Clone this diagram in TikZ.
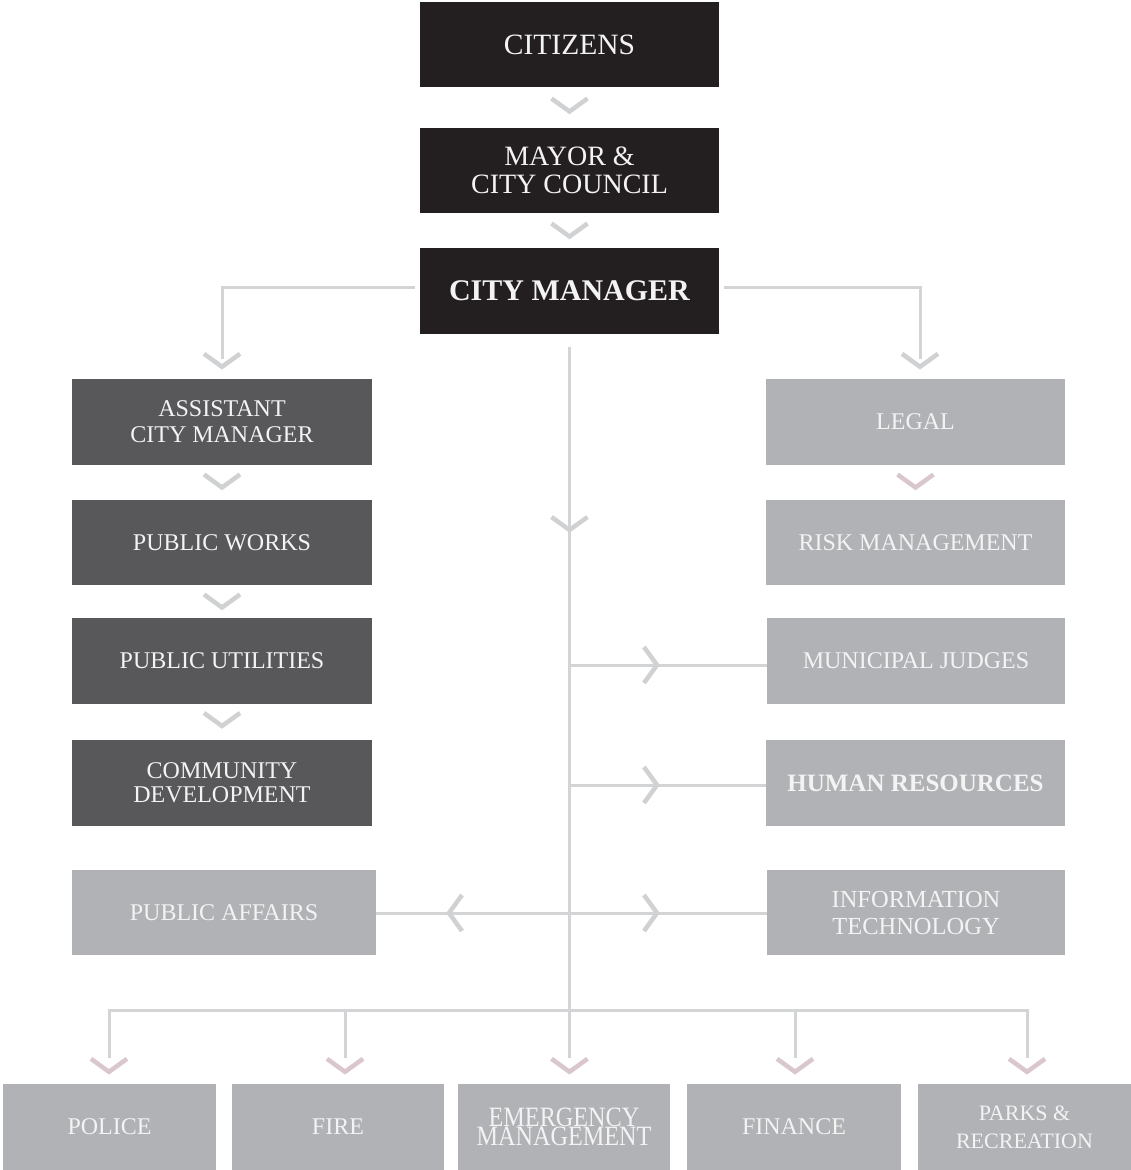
\documentclass[tikz,border=0pt]{standalone}
\usepackage{fontspec}
\setmainfont{Liberation Serif}
\usetikzlibrary{calc}
\definecolor{boxblack}{HTML}{231F20}
\definecolor{boxdark}{HTML}{58585A}
\definecolor{boxlight}{HTML}{B1B2B5}
\definecolor{linegray}{HTML}{D3D4D6}
\definecolor{chevgray}{HTML}{D0D1D3}
\definecolor{chevpink}{HTML}{D9C7CD}
\definecolor{txtwhite}{HTML}{F3F3F3}
\tikzset{
  box/.style={rectangle, inner sep=0pt, align=center, text=txtwhite, draw=none},
  blackbox/.style={box, fill=boxblack, minimum width=299pt, minimum height=85pt},
  darkbox/.style={box, fill=boxdark, minimum width=300pt, minimum height=86pt, font=\fontsize{24}{26}\selectfont},
  lightbox/.style={box, fill=boxlight, minimum width=299pt, minimum height=86pt, font=\fontsize{24}{26}\selectfont},
  botbox/.style={box, fill=boxlight, minimum width=213pt, minimum height=86pt, font=\fontsize{24}{26}\selectfont},
  conn/.style={draw=linegray, line width=3pt},
  chevG/.style={draw=chevgray},
  chevP/.style={draw=chevpink},
  chevD/.pic={\draw[line width=4.5pt, line join=miter, pic actions] (-18,-13) -- (0,0) -- (18,-13);},
  chevR/.pic={\draw[line width=4.5pt, line join=miter, pic actions] (-13,-18) -- (0,0) -- (-13,18);},
  chevL/.pic={\draw[line width=4.5pt, line join=miter, pic actions] (13,-18) -- (0,0) -- (13,18);},
}
\begin{document}
\begin{tikzpicture}[x=1pt,y=-1pt]
\useasboundingbox (0,0) rectangle (1131,1170);
% top column
\node[blackbox, font=\fontsize{29.5}{30}\selectfont] (cit) at (569.5,44.5) {CITIZENS};
\node[blackbox, font=\fontsize{28}{28}\selectfont] (may) at (569.5,170.5) {MAYOR \&\\CITY COUNCIL};
\node[blackbox, minimum height=86pt, font=\bfseries\fontsize{30}{30}\selectfont] (cm) at (569.5,291) {CITY MANAGER};
% left column
\node[darkbox] (acm) at (222,422) {ASSISTANT\\CITY MANAGER};
\node[darkbox, minimum height=85pt] (pw) at (222,542.5) {PUBLIC WORKS};
\node[darkbox] (pu) at (222,661) {PUBLIC UTILITIES};
\node[darkbox, font=\fontsize{24}{24}\selectfont] (cd) at (222,783) {COMMUNITY\\DEVELOPMENT};
\node[lightbox, minimum width=304pt, minimum height=85pt] (pa) at (224,912.5) {PUBLIC AFFAIRS};
% right column
\node[lightbox] (legal) at (915.5,422) {LEGAL};
\node[lightbox, minimum height=85pt] (risk) at (915.5,542.5) {RISK MANAGEMENT};
\node[lightbox, minimum width=298pt] (mj) at (916,661) {MUNICIPAL JUDGES};
\node[lightbox, font=\bfseries\fontsize{25}{26}\selectfont] (hr) at (915.5,783) {HUMAN RESOURCES};
\node[lightbox, minimum width=298pt, minimum height=85pt, font=\fontsize{24.5}{27}\selectfont] (it) at (916,912.5) {INFORMATION\\TECHNOLOGY};
% bottom row
\node[botbox] (pol) at (109.5,1127) {POLICE};
\node[botbox, minimum width=212pt] (fire) at (338,1127) {FIRE};
\node[botbox, minimum width=212pt, font=\fontsize{28}{19}\selectfont] (em) at (564,1127) {\scalebox{0.865}[1]{EMERGENCY}\\\scalebox{0.865}[1]{MANAGEMENT}};
\node[botbox, minimum width=214pt] (fin) at (794,1127) {FINANCE};
\node[botbox, font=\fontsize{22}{28}\selectfont] (park) at (1024.5,1127) {PARKS \&\\RECREATION};
% chevrons between stacked boxes
\pic[chevG] at ($(cit.south)!0.5!(may.north)+(0,4)$) {chevD};
\pic[chevG] at ($(may.south)!0.5!(cm.north)+(0,6)$) {chevD};
\pic[chevG] at ($(acm.south)!0.5!(pw.north)+(0,5)$) {chevD};
\pic[chevG] at ($(pw.south)!0.5!(pu.north)+(0,6)$) {chevD};
\pic[chevG] at ($(pu.south)!0.5!(cd.north)+(0,4)$) {chevD};
\pic[chevP] at ($(legal.south)!0.5!(risk.north)+(0,5)$) {chevD};
% city manager to assistant and legal
\draw[conn] ([xshift=-5pt,yshift=4pt]cm.west) -| ([yshift=20pt]acm.north);
\pic[chevG] at ([yshift=12pt]acm.north) {chevD};
\draw[conn] ([xshift=5pt,yshift=4pt]cm.east) -| ([xshift=4.5pt,yshift=20pt]legal.north);
\pic[chevG] at ([xshift=4.5pt,yshift=12pt]legal.north) {chevD};
% central spine
\coordinate (hub) at (569.5,1010);
\coordinate (j1) at (569.5,665);
\coordinate (j2) at (569.5,785);
\coordinate (j3) at (569.5,913);
\draw[conn] ([yshift=-13pt]cm.south) -- (hub);
\pic[chevG] at (569.5,530) {chevD};
\draw[conn] (j1) -- (j1 -| mj.west);
\pic[chevG] at (657,665) {chevR};
\draw[conn] (j2) -- (j2 -| hr.west);
\pic[chevG] at (657,785) {chevR};
\draw[conn] (pa.east |- j3) -- (j3 -| it.west);
\pic[chevG] at (449,913) {chevL};
\pic[chevG] at (657,913) {chevR};
% bottom bus
\coordinate (b1) at (109,1010);
\coordinate (b2) at (345,1010);
\coordinate (b4) at (795,1010);
\coordinate (b5) at (1027,1010);
\draw[conn] ([yshift=26pt]b1 |- pol.north) -- (b1) -- (b5) -- ([yshift=26pt]b5 |- park.north);
\draw[conn] (b2) -- ([yshift=26pt]b2 |- fire.north);
\draw[conn] (hub) -- ([yshift=26pt]hub |- em.north);
\draw[conn] (b4) -- ([yshift=26pt]b4 |- fin.north);
\pic[chevP] at ([yshift=12pt]b1 |- pol.north) {chevD};
\pic[chevP] at ([yshift=12pt]b2 |- fire.north) {chevD};
\pic[chevP] at ([yshift=12pt]hub |- em.north) {chevD};
\pic[chevP] at ([yshift=12pt]b4 |- fin.north) {chevD};
\pic[chevP] at ([yshift=12pt]b5 |- park.north) {chevD};
\end{tikzpicture}
\end{document}
